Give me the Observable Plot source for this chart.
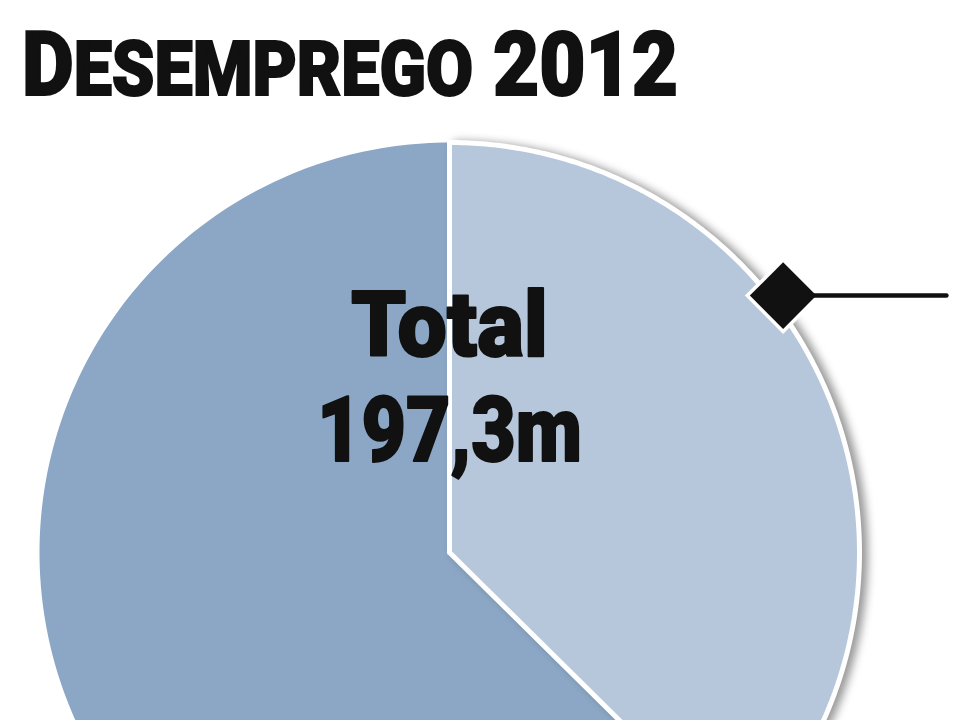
<!DOCTYPE html>
<html>
<head>
<meta charset="utf-8">
<script src="https://cdn.jsdelivr.net/npm/d3@7"></script>
<script src="https://cdn.jsdelivr.net/npm/@observablehq/plot@0.6"></script>
<style>
  html, body { margin: 0; padding: 0; background: #fff; }
  #header { position: relative; height: 125px; width: 959px; overflow: hidden; }
  #title { position: absolute; left: 22px; top: 20px; font-family: Roboto, "Liberation Sans", sans-serif; font-weight: 900;
           font-size: 89px; line-height: 89px; white-space: nowrap; color: #111; transform-origin: 0 0;
           -webkit-text-stroke: 2px #111; }
  #title .sc { font-size: 76px; }
  #chart svg { display: block; }
</style>
</head>
<body>
<div id="header"><div id="title"><span>D</span><span class="sc">ESEMPREGO</span><span> 2012</span></div></div>
<div id="chart"></div>
<script>
// ---- data ----
const categories = ["Jovens (15-24 anos)", "Adultos (25+ anos)"];
const values = [73.8, 123.5];            // milhões de desempregados
const centerLabels = ["Total", "197,3m"];
const calloutAngleDeg = 52.4;             // marcador da fatia "Jovens"
const calloutRadius = 1.027;              // relativo ao raio
const calloutEndX = 1.212;                // fim da linha do marcador (relativo ao raio)

// ---- geometry from data ----
const pie = d3.pie().sort(null).value(d => d.value);
const arcs = pie(categories.map((c, i) => ({category: c, value: values[i]})));
function slicePoints(a) {
  const pts = [{category: a.data.category, x: 0, y: 0}];
  const n = 240;
  for (let k = 0; k <= n; k++) {
    const t = a.startAngle + (a.endAngle - a.startAngle) * k / n;
    pts.push({category: a.data.category, x: Math.sin(t), y: Math.cos(t)});
  }
  pts.push({category: a.data.category, x: 0, y: 0});
  return pts;
}
const lightPts = slicePoints(arcs[0]);
const darkPts = slicePoints(arcs[1]);
const ca = calloutAngleDeg * Math.PI / 180;
const callout = [{x: Math.sin(ca) * calloutRadius, y: Math.cos(ca) * calloutRadius}];

const R = 410, CX = 449, CY = 427;
const plot = Plot.plot({
  width: 959,
  height: 595,
  margin: 0,
  style: {background: "white", overflow: "hidden"},
  x: {domain: [-1, 1], range: [CX - R, CX + R], axis: null},
  y: {domain: [-1, 1], range: [CY + R, CY - R], axis: null},
  color: {domain: categories, range: ["#b7c7db", "#8ba7c5"]},
  marks: [
    Plot.line(darkPts, {x: "x", y: "y", fill: "category", stroke: "none", curve: "linear"}),
    Plot.line(lightPts, {x: "x", y: "y", fill: "category", stroke: "white", strokeWidth: 5, strokeLinejoin: "miter", curve: "linear"}),
    Plot.text([0], {x: () => 0, y: () => 0, text: () => centerLabels[0], dy: -226, fontSize: 91, fontWeight: 900,
      fontFamily: "Roboto, 'Liberation Sans', sans-serif", fill: "#111", stroke: "#111", strokeWidth: 2, textAnchor: "middle"}),
    Plot.text([0], {x: () => 0, y: () => 0, text: () => centerLabels[1], dy: -121, fontSize: 91, fontWeight: 900,
      fontFamily: "Roboto, 'Liberation Sans', sans-serif", fill: "#111", stroke: "#111", strokeWidth: 2, textAnchor: "middle"}),
    Plot.dot(callout, {x: "x", y: "y", symbol: "diamond2", r: 34.5, fill: "white", stroke: "none"}),
    Plot.link(callout, {x1: "x", y1: "y", x2: () => calloutEndX, y2: "y", stroke: "#111", strokeWidth: 4.5, strokeLinecap: "round"}),
    Plot.dot(callout, {x: "x", y: "y", symbol: "diamond2", r: 30, fill: "#111", stroke: "none"})
  ]
});
document.getElementById("chart").appendChild(plot);

// shadow on the light slice
const lines = plot.querySelectorAll('g[aria-label="line"]');
if (lines[1]) lines[1].style.filter = "drop-shadow(6px 1px 4px rgba(0,0,0,0.4))";

// fit center labels to the reference widths
const texts = plot.querySelectorAll('g[aria-label="text"] text');
const widths = [197, 265];
texts.forEach((t, i) => { t.setAttribute("textLength", widths[i]); t.setAttribute("lengthAdjust", "spacingAndGlyphs"); });

// fit title width
const title = document.getElementById("title");
const w = title.getBoundingClientRect().width;
title.style.transform = `scaleX(${656 / w})`;
</script>
</body>
</html>
